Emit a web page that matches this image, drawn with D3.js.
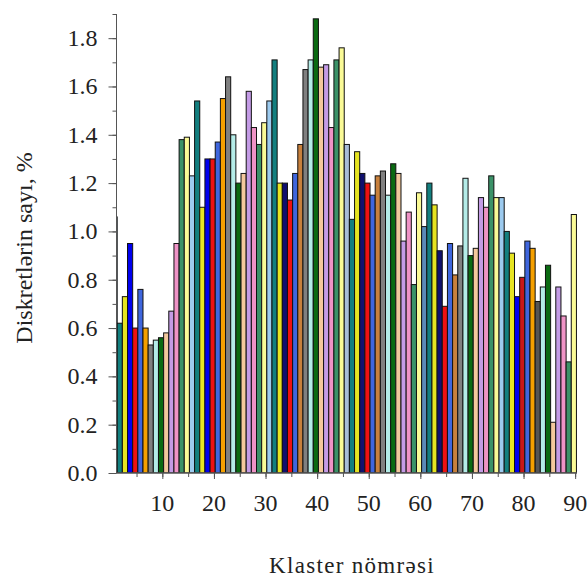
<!DOCTYPE html>
<html>
<head>
<meta charset="utf-8">
<script src="https://cdn.jsdelivr.net/npm/d3@7"></script>
<style>
  body { margin: 0; background: #fff; }
</style>
</head>
<body>
<figure id="bars" style="margin:0"></figure>
<script>
// cluster numbers 1..90 and their share (%)
const clusters = d3.range(1, 91);
const shares = [
  1.06, 0.62, 0.73, 0.95, 0.60, 0.76, 0.60, 0.53, 0.55, 0.56,
  0.58, 0.67, 0.95, 1.38, 1.39, 1.23, 1.54, 1.10, 1.30, 1.30,
  1.37, 1.55, 1.64, 1.40, 1.20, 1.24, 1.58, 1.43, 1.36, 1.45,
  1.54, 1.71, 1.20, 1.20, 1.13, 1.24, 1.36, 1.67, 1.71, 1.88,
  1.68, 1.69, 1.43, 1.71, 1.76, 1.36, 1.05, 1.33, 1.24, 1.20,
  1.15, 1.23, 1.25, 1.15, 1.28, 1.24, 0.96, 1.08, 0.78, 1.16,
  1.02, 1.20, 1.11, 0.92, 0.69, 0.95, 0.82, 0.94, 1.22, 0.90,
  0.93, 1.14, 1.10, 1.23, 1.14, 1.14, 1.00, 0.91, 0.73, 0.81,
  0.96, 0.93, 0.71, 0.77, 0.86, 0.21, 0.77, 0.65, 0.46, 1.07
];
const yTicks = [0, 0.2, 0.4, 0.6, 0.8, 1.0, 1.2, 1.4, 1.6, 1.8];
const xTicks = [10, 20, 30, 40, 50, 60, 70, 80, 90];

// colour cycle (starts at cluster 2)
const palette = ["#137f7f", "#e6e422", "#0000ee", "#ee1111", "#3f66dd",
  "#f5a000", "#808080", "#b4ece8", "#0b6a12", "#f3c89c",
  "#c49be6", "#ef93c6", "#3b9268", "#fafa96", "#9dcbef"];
const special = { 34: "#10106e", 49: "#10106e", 64: "#10106e",
  37: "#c8803c", 52: "#c8803c", 67: "#c8803c",
  46: "#a8bcd8", 61: "#5a8ab8", 80: "#c81818", 83: "#555555" };
const colorOf = k => special[k] || palette[((k - 2) % 15 + 15) % 15];

const W = 588, H = 578;
const mLeft = 116.5, mRight = 577, mTop = 14, mBottom = 473;
const serif = "Liberation Serif";

const svg = d3.select("figure#bars").append("svg")
  .attr("width", W).attr("height", H);

const x = d3.scaleLinear().domain([1, 90.36]).range([115.9, mRight]);
const y = d3.scaleLinear().domain([0, 1.9]).range([mBottom, mTop]);

svg.append("clipPath").attr("id", "plot")
  .append("rect").attr("x", mLeft).attr("y", 0)
  .attr("width", mRight - mLeft).attr("height", mBottom);

// bars
svg.append("g").attr("clip-path", "url(#plot)")
  .selectAll("rect")
  .data(clusters)
  .enter()
  .append("rect")
  .attr("x", k => x(k - 0.75))
  .attr("width", k => x(k + 0.25) - x(k - 0.75))
  .attr("y", (k, i) => y(shares[i]))
  .attr("height", (k, i) => y(0) - y(shares[i]))
  .style("fill", k => colorOf(k))
  .style("stroke", "#111")
  .style("stroke-width", 1);

// y axis (lines only, labels added below)
const yAxis = svg.append("g").attr("transform", "translate(" + mLeft + ",0)");
yAxis.call(d3.axisLeft(y).tickValues(d3.range(0, 1.95, 0.1)).tickSize(4).tickFormat(""));
yAxis.append("g").call(d3.axisLeft(y).tickValues(yTicks).tickSize(8).tickFormat(""));
yAxis.selectAll("path.domain").attr("stroke", "#555").attr("d", "M0," + mTop + "V" + mBottom);
yAxis.selectAll("line").attr("stroke", "#555");

// x axis
const xAxis = svg.append("g").attr("transform", "translate(0," + mBottom + ")");
xAxis.call(d3.axisBottom(x).tickValues(d3.range(5, 91, 5)).tickSize(4).tickFormat(""));
xAxis.append("g").call(d3.axisBottom(x).tickValues(xTicks).tickSize(6).tickFormat(""));
xAxis.selectAll("path.domain").attr("stroke", "#555").attr("d", "M" + mLeft + ",0H" + mRight);
xAxis.selectAll("line").attr("stroke", "#555");

// tick labels
svg.append("g").selectAll("text")
  .data(yTicks)
  .enter()
  .append("text")
  .attr("x", mLeft - 19)
  .attr("y", d => y(d))
  .attr("dy", "0.33em")
  .attr("text-anchor", "end")
  .attr("font-family", serif)
  .attr("font-size", 24)
  .attr("fill", "#222")
  .text(d3.format(".1f"));

svg.append("g").selectAll("text")
  .data(xTicks)
  .enter()
  .append("text")
  .attr("x", d => x(d))
  .attr("y", 511)
  .attr("text-anchor", "middle")
  .attr("font-family", serif)
  .attr("font-size", 24)
  .attr("fill", "#222")
  .text(d => d);

// axis titles
svg.append("text")
  .attr("text-anchor", "middle")
  .attr("x", 352)
  .attr("y", 573)
  .attr("font-family", serif)
  .attr("font-size", 23)
  .attr("fill", "#222")
  .style("letter-spacing", "1.3px")
  .text("Klaster nömrəsi");

svg.append("text")
  .attr("text-anchor", "middle")
  .attr("transform", "translate(32,248) rotate(-90)")
  .attr("font-family", serif)
  .attr("font-size", 24)
  .attr("fill", "#222")
  .text("Diskretlərin sayı,  %");
</script>
</body>
</html>
